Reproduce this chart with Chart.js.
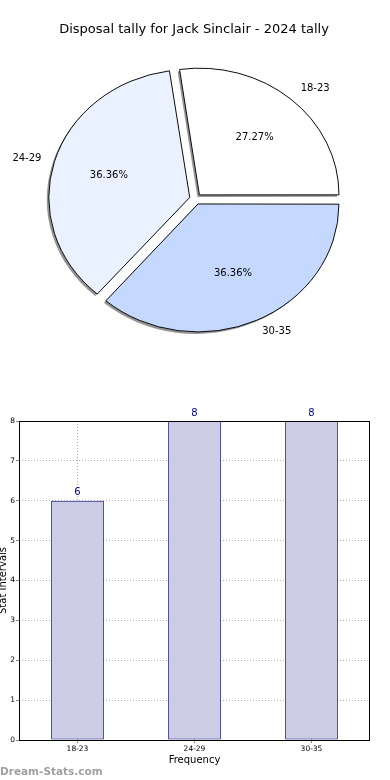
<!DOCTYPE html>
<html><head><meta charset="utf-8">
<script src="https://cdn.jsdelivr.net/npm/chart.js@4/dist/chart.umd.min.js"></script>
<style>
html,body{margin:0;padding:0;background:#fff;width:390px;height:780px;overflow:hidden}
#pie{position:absolute;left:0;top:0}
#bar{position:absolute;left:0;top:400px}
</style></head><body>
<canvas id="pie" width="390" height="398"></canvas>
<canvas id="bar" width="390" height="380"></canvas>
<script>
const chartTitle = 'Disposal tally for Jack Sinclair - 2024 tally';
const categories = ['18-23', '24-29', '30-35'];
const counts = [6, 8, 8];
const yTicks = [0, 1, 2, 3, 4, 5, 6, 7, 8];
const xAxisTitle = 'Frequency';
const yAxisTitle = 'Stat Intervals';
const watermark = 'Dream-Stats.com';

const FONT = "'DejaVu Sans', sans-serif";
const sliceColors = ['#ffffff', '#eaf1ff', '#c5d8ff'];
const Y_SCALE = 128 / 141;
const EXPLODE = 24; // Chart.js moves an arc by offset/4

const pieDeco = {
  id: 'pieDeco',
  beforeDatasetsDraw(chart) {
    const meta = chart.getDatasetMeta(0);
    const a = meta.data[0];
    const ctx = chart.ctx;
    ctx.save();
    ctx.translate(a.x, a.y); ctx.scale(1, Y_SCALE); ctx.translate(-a.x, -a.y);
    // shadow pass: same arcs, filled grey, shifted down-left
    meta.data.forEach(arc => {
      const o = arc.options;
      const so = {
        offset: o.offset, spacing: o.spacing || 0, circular: o.circular !== false,
        borderAlign: o.borderAlign, borderRadius: 0, borderWidth: 0,
        borderColor: 'rgba(0,0,0,0)', backgroundColor: 'rgba(0,0,0,0.42)',
        borderJoinStyle: o.borderJoinStyle, borderDash: [], borderDashOffset: 0,
        selfJoin: false
      };
      ctx.save();
      ctx.translate(-2, 2.2);
      arc.options = so;
      arc.draw(ctx);
      arc.options = o;
      ctx.restore();
    });
  },
  afterDatasetsDraw(chart) { chart.ctx.restore(); },
  afterDraw(chart) {
    const ctx = chart.ctx;
    const meta = chart.getDatasetMeta(0);
    const total = counts.reduce((s, v) => s + v, 0);
    ctx.save();
    ctx.fillStyle = '#000';
    ctx.font = '13px ' + FONT;
    ctx.textAlign = 'center'; ctx.textBaseline = 'middle';
    ctx.fillText(chartTitle, 194, 30);
    ctx.font = '10px ' + FONT;
    meta.data.forEach((arc, i) => {
      const idx = categories.length - 1 - i;
      const mid = (arc.startAngle + arc.endAngle) / 2;
      const d = EXPLODE / 4;
      const R = 140.5;
      const px = r => arc.x + Math.cos(mid) * (d + r);
      const py = r => arc.y + Math.sin(mid) * (d + r) * Y_SCALE;
      ctx.textAlign = 'center';
      ctx.fillText((counts[idx] / total * 100).toFixed(2) + '%', px(0.6 * R), py(0.6 * R));
      ctx.textAlign = Math.cos(mid) >= 0 ? 'left' : 'right';
      ctx.fillText(categories[idx], px(1.1 * R), py(1.1 * R));
    });
    ctx.restore();
  }
};

new Chart(document.getElementById('pie'), {
  type: 'pie',
  data: {
    labels: categories.slice().reverse(),
    datasets: [{
      data: counts.slice().reverse(),
      backgroundColor: sliceColors.slice().reverse(),
      borderColor: '#000',
      borderWidth: 1,
      offset: EXPLODE,
      hoverOffset: EXPLODE
    }]
  },
  options: {
    responsive: false, animation: false, devicePixelRatio: 1,
    rotation: 90,
    radius: 139.5,
    layout: { padding: { left: 1, right: 0, top: 0, bottom: 0 } },
    plugins: { legend: { display: false }, tooltip: { enabled: false } },
    events: []
  },
  plugins: [pieDeco]
});

const barDeco = {
  id: 'barDeco',
  afterDatasetsDraw(chart) {
    const { ctx, chartArea: a } = chart;
    ctx.save();
    ctx.strokeStyle = '#000'; ctx.lineWidth = 1;
    ctx.strokeRect(Math.round(a.left) + 0.5, Math.round(a.top) + 0.5,
      Math.round(a.right - a.left) - 1, Math.round(a.bottom - a.top));
    ctx.restore();
  },
  afterDraw(chart) {
    const { ctx, chartArea: a } = chart;
    ctx.save();
    const meta = chart.getDatasetMeta(0);
    ctx.fillStyle = '#000099';
    ctx.font = '10px ' + FONT;
    ctx.textAlign = 'center'; ctx.textBaseline = 'bottom';
    meta.data.forEach((bar, i) => {
      ctx.fillText(String(counts[i]), bar.x, bar.y - 3);
    });
    ctx.fillStyle = '#000';
    ctx.textBaseline = 'middle';
    ctx.fillText(xAxisTitle, (a.left + a.right) / 2, 360);
    ctx.save();
    ctx.translate(3, (a.top + a.bottom) / 2);
    ctx.rotate(-Math.PI / 2);
    ctx.fillText(yAxisTitle, 0, 0);
    ctx.restore();
    ctx.fillStyle = '#a0a0a0';
    ctx.font = 'bold 10.5px ' + FONT;
    ctx.textAlign = 'left'; ctx.textBaseline = 'alphabetic';
    ctx.fillText(watermark, 0, 375);
    ctx.restore();
  }
};

new Chart(document.getElementById('bar'), {
  type: 'bar',
  data: {
    labels: categories,
    datasets: [{
      data: counts,
      backgroundColor: '#ccccE6',
      borderColor: '#000080',
      borderWidth: 1,
      borderSkipped: false,
      barPercentage: 0.45,
      categoryPercentage: 1
    }]
  },
  options: {
    responsive: false, animation: false, devicePixelRatio: 1,
    events: [],
    layout: { padding: { top: 21, right: 20, left: 0, bottom: 0 } },
    plugins: { legend: { display: false }, tooltip: { enabled: false } },
    scales: {
      x: {
        grid: { offset: false, color: '#b0b0b0', tickLength: 3, tickColor: '#888' },
        border: { display: false, dash: [1, 2] },
        ticks: { font: { size: 7.5, family: FONT }, color: '#000', padding: 2 },
        afterFit(s) { s.height = 40; }
      },
      y: {
        min: 0, max: 8,
        grid: { color: '#b0b0b0', tickLength: 3, tickColor: '#888' },
        border: { display: false, dash: [1, 2] },
        ticks: {
          stepSize: 1, font: { size: 7.5, family: FONT }, color: '#000', padding: 1,
          callback: (v) => yTicks.includes(v) ? String(v) : ''
        },
        afterFit(s) { s.width = 19; }
      }
    }
  },
  plugins: [barDeco]
});
</script>
</body></html>
